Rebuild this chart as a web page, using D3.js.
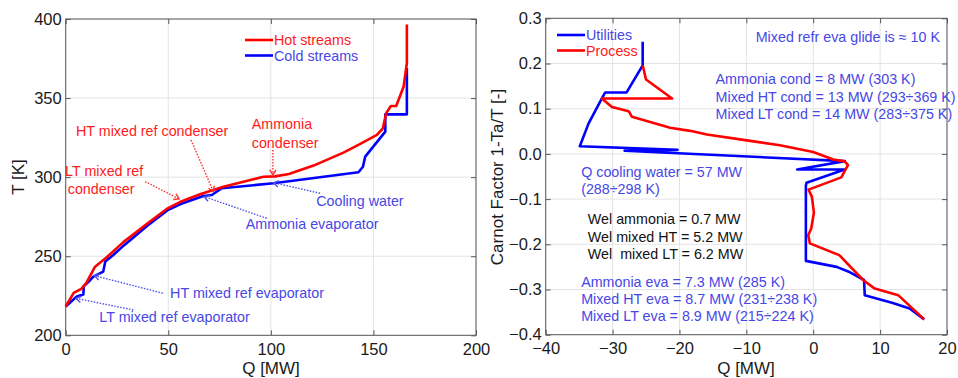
<!DOCTYPE html>
<html>
<head>
<meta charset="utf-8">
<script src="https://cdn.jsdelivr.net/npm/d3@7"></script>
<style>
  body { margin: 0; background: #fff; }
  svg { display: block; font-family: "Liberation Sans", Arial, sans-serif; }
</style>
</head>
<body>
<svg id="chart" width="958" height="378"></svg>
<script>
// ---- left panel: composite curves, [Q MW, T K]
const hotStreams = [
  [0, 218.2], [3.9, 226.8], [7.6, 229.4], [10, 233], [14.3, 243.4], [19.7, 249],
  [28.1, 258.9], [39.5, 270.4], [49.7, 280.3], [56.6, 284.8], [65.5, 289.2],
  [76.9, 294], [91.5, 298.7], [96.4, 300.3], [102, 300.5], [108.8, 302],
  [120.8, 307.3], [135.4, 315.5], [143.6, 321], [151.7, 326.7], [154.6, 330.9],
  [156.2, 340.4], [158.5, 345], [161.1, 345], [164.7, 357.2], [166.3, 372], [166.3, 396.5]
];
const coldStreams = [
  [0, 218.2], [5.4, 224.5], [8.6, 225.8], [8.8, 231], [12, 235], [13.5, 237.1],
  [18.3, 240.3], [19.3, 246.6], [23.2, 250.8], [28.5, 257], [39.5, 269], [49.5, 279],
  [56, 283], [67.1, 288.1], [71.2, 288.7], [76.1, 293], [101.3, 296.1], [142.7, 303.1],
  [144.9, 306.6], [146, 313], [155.8, 328.8], [155.8, 339.7], [166.3, 339.7], [166.3, 369]
];
const leftXTicks = [0, 50, 100, 150, 200];
const leftYTicks = [200, 250, 300, 350, 400];

// labels: [text, Q, T, colour]
const leftLabels = [
  ["HT mixed ref condenser", 5, 329.4, "red"],
  ["Ammonia", 90.7, 333.4, "red"],
  ["condenser", 90.7, 321.8, "red"],
  ["LT mixed ref", -0.3, 304.1, "red"],
  ["condenser", 1, 292.7, "red"],
  ["Cooling water", 122.1, 285.1, "blue"],
  ["Ammonia evaporator", 87.8, 270.4, "blue"],
  ["HT mixed ref evaporator", 50.9, 226.6, "blue"],
  ["LT mixed ref evaporator", 16.4, 211.4, "blue"]
];
// arrows: [Q1, T1, Q2, T2, colour] (head at the second point)
const leftArrows = [
  [61.1, 323.5, 72, 290.8, "red"],
  [101, 317.2, 101, 301.4, "red"],
  [38.7, 297.2, 55.3, 286.2, "red"],
  [124, 289.8, 101.3, 296.5, "blue"],
  [98, 274, 67.5, 287.7, "blue"],
  [47.3, 226.6, 14, 237.7, "blue"],
  [33, 216, 5, 223.4, "blue"]
];

// ---- right panel: Carnot factor vs Q, [Q MW, 1-Ta/T]
const utilities = [
  [-25.5, 0.248], [-25.5, 0.196], [-27.9, 0.136], [-31.1, 0.136], [-31.6, 0.1226],
  [-33.6, 0.067], [-34.9, 0.017], [-20.3, 0.009], [-28.2, 0.007], [4.73, -0.016],
  [-2.4, -0.0346], [4.7, -0.0346], [-1.0, -0.064], [-1.1, -0.07], [-1.1, -0.2367],
  [3.5, -0.25], [5.5, -0.262], [7.6, -0.279], [7.7, -0.3125], [11.9, -0.33],
  [14.4, -0.342], [16.6, -0.366]
];
const process = [
  [-25.5, 0.196], [-25, 0.1646], [-21.1, 0.1226], [-31.6, 0.1226], [-30.1, 0.104],
  [-27.6, 0.0945], [-27.1, 0.082], [-21.4, 0.058], [-18.4, 0.051], [-15.9, 0.043],
  [-9.94, 0.030], [-5, 0.019], [0, 0.0044], [3, -0.0124], [4.7, -0.0165], [5.2, -0.025],
  [4.9, -0.0325], [4.2, -0.052], [-0.7, -0.079], [-0.2, -0.095], [0.1, -0.13],
  [-0.3, -0.165], [-0.75, -0.18], [-0.5, -0.198], [3.9, -0.224], [7.46, -0.279],
  [9.2, -0.298], [12.7, -0.3125], [16.6, -0.366]
];
const rightXTicks = [-40, -30, -20, -10, 0, 10, 20];
const rightYTicks = [-0.4, -0.3, -0.2, -0.1, 0, 0.1, 0.2, 0.3];

// labels: [text, Q, CF, colour]
const rightLabels = [
  ["Mixed refr eva glide is \u2248 10 K", -8.6, 0.259, "blue"],
  ["Ammonia cond = 8 MW (303 K)", -14.6, 0.165, "blue"],
  ["Mixed HT cond = 13 MW (293\u00f7369 K)", -14.6, 0.125, "blue"],
  ["Mixed LT cond = 14 MW (283\u00f7375 K)", -14.6, 0.088, "blue"],
  ["Q cooling water = 57 MW", -34.7, -0.04, "blue"],
  ["(288\u00f7298 K)", -34.7, -0.078, "blue"],
  ["Wel ammonia = 0.7 MW", -33.7, -0.144, "black"],
  ["Wel mixed HT = 5.2 MW", -33.7, -0.184, "black"],
  ["Wel  mixed LT = 6.2 MW", -33.7, -0.222, "black"],
  ["Ammonia eva = 7.3 MW (285 K)", -34.7, -0.283, "blue"],
  ["Mixed HT eva = 8.7 MW (231\u00f7238 K)", -34.7, -0.322, "blue"],
  ["Mixed LT eva = 8.9 MW (215\u00f7224 K)", -34.7, -0.359, "blue"]
];

const colours = { red: "#ff0000", blue: "#0000ff", black: "#111111" };
const textColours = { red: "#ff1a1a", blue: "#4747e6", black: "#111111" };

const svg = d3.select("#chart");

function frame(g, x, y, xTicks, yTicks, xFmt, yFmt) {
  const [x0, x1] = x.range();
  const [y0, y1] = y.range();
  // grid
  g.append("g").selectAll("line").data(xTicks).join("line")
    .attr("x1", d => x(d)).attr("x2", d => x(d))
    .attr("y1", y0).attr("y2", y1)
    .attr("stroke", "#e4e4e4").attr("stroke-width", 1);
  g.append("g").selectAll("line").data(yTicks).join("line")
    .attr("y1", d => y(d)).attr("y2", d => y(d))
    .attr("x1", x0).attr("x2", x1)
    .attr("stroke", "#e4e4e4").attr("stroke-width", 1);

  const bottom = g.append("g").attr("transform", `translate(0,${y0})`)
    .call(d3.axisBottom(x).tickValues(xTicks).tickFormat(xFmt).tickSize(-5).tickPadding(8));
  const top = g.append("g").attr("transform", `translate(0,${y1})`)
    .call(d3.axisTop(x).tickValues(xTicks).tickFormat("").tickSize(-5));
  const left = g.append("g").attr("transform", `translate(${x0},0)`)
    .call(d3.axisLeft(y).tickValues(yTicks).tickFormat(yFmt).tickSize(-5).tickPadding(4));
  const right = g.append("g").attr("transform", `translate(${x1},0)`)
    .call(d3.axisRight(y).tickValues(yTicks).tickFormat("").tickSize(-5));
  [bottom, top, left, right].forEach(a => {
    a.select(".domain").remove();
    a.selectAll(".tick line").attr("stroke", "#555");
    a.selectAll("text").attr("font-size", 16.5).attr("fill", "#1a1a1a")
      .attr("font-family", "Liberation Sans, Arial, sans-serif");
  });
  g.append("rect")
    .attr("x", x0).attr("y", y1).attr("width", x1 - x0).attr("height", y0 - y1)
    .attr("fill", "none").attr("stroke", "#5a5a5a").attr("stroke-width", 1);
}

function curve(g, x, y, data, col) {
  g.append("path").datum(data)
    .attr("d", d3.line().x(d => x(d[0])).y(d => y(d[1])))
    .attr("fill", "none").attr("stroke", col).attr("stroke-width", 2.6)
    .attr("stroke-linejoin", "round");
}

function labels(g, x, y, list) {
  g.append("g").selectAll("text").data(list).join("text")
    .attr("x", d => x(d[1])).attr("y", d => y(d[2]))
    .attr("dy", "0.35em")
    .attr("font-size", 14.3)
    .attr("fill", d => textColours[d[3]])
    .style("white-space", "pre")
    .text(d => d[0]);
}

function arrows(g, x, y, list) {
  list.forEach(a => {
    const px1 = x(a[0]), py1 = y(a[1]), px2 = x(a[2]), py2 = y(a[3]);
    const col = a[4] === "red" ? "#ff3030" : "#5050ee";
    g.append("line")
      .attr("x1", px1).attr("y1", py1).attr("x2", px2).attr("y2", py2)
      .attr("stroke", col).attr("stroke-width", 1.4).attr("stroke-dasharray", "1.5,1.5");
    const ang = Math.atan2(py2 - py1, px2 - px1);
    const L = 6, spread = 0.55;
    const p1 = [px2 - L * Math.cos(ang - spread), py2 - L * Math.sin(ang - spread)];
    const p2 = [px2 - L * Math.cos(ang + spread), py2 - L * Math.sin(ang + spread)];
    g.append("path")
      .attr("d", `M${p1[0]},${p1[1]}L${px2},${py2}L${p2[0]},${p2[1]}`)
      .attr("fill", "none").attr("stroke", col).attr("stroke-width", 1.4);
  });
}

function legend(g, x0, y0, items) {
  items.forEach((it, i) => {
    const yy = y0 + i * 15.5;
    g.append("line").attr("x1", x0).attr("x2", x0 + 28).attr("y1", yy).attr("y2", yy)
      .attr("stroke", colours[it[1]]).attr("stroke-width", 2.6);
    g.append("text").attr("x", x0 + 29).attr("y", yy).attr("dy", "0.35em")
      .attr("font-size", 14.3).attr("fill", textColours[it[1]]).text(it[0]);
  });
}

// ---- left panel
const xL = d3.scaleLinear().domain([0, 200]).range([65.7, 476]);
const yL = d3.scaleLinear().domain([200, 400]).range([335.3, 19]);
const gL = svg.append("g");
frame(gL, xL, yL, leftXTicks, leftYTicks, d3.format("d"), d3.format("d"));
curve(gL, xL, yL, coldStreams, colours.blue);
curve(gL, xL, yL, hotStreams, colours.red);
arrows(gL, xL, yL, leftArrows);
labels(gL, xL, yL, leftLabels);
legend(gL, 245, 40, [["Hot streams", "red"], ["Cold streams", "blue"]]);
gL.append("text").attr("x", 271).attr("y", 368).attr("dy", "0.35em")
  .attr("text-anchor", "middle").attr("font-size", 17).attr("fill", "#1a1a1a").text("Q [MW]");
gL.append("text").attr("transform", "translate(18,177) rotate(-90)").attr("dy", "0.35em")
  .attr("text-anchor", "middle").attr("font-size", 17).attr("fill", "#1a1a1a").text("T [K]");

// ---- right panel
const xR = d3.scaleLinear().domain([-40, 20]).range([545.7, 947]);
const yR = d3.scaleLinear().domain([-0.4, 0.3]).range([334.7, 18.3]);
const gR = svg.append("g");
frame(gR, xR, yR, rightXTicks, rightYTicks, d3.format("d"), d3.format(".1f"));
curve(gR, xR, yR, utilities, colours.blue);
curve(gR, xR, yR, process, colours.red);
labels(gR, xR, yR, rightLabels);
legend(gR, 557, 35, [["Utilities", "blue"], ["Process", "red"]]);
gR.append("text").attr("x", 746).attr("y", 368).attr("dy", "0.35em")
  .attr("text-anchor", "middle").attr("font-size", 17).attr("fill", "#1a1a1a").text("Q [MW]");
gR.append("text").attr("transform", "translate(497,177) rotate(-90)").attr("dy", "0.35em")
  .attr("text-anchor", "middle").attr("font-size", 17).attr("fill", "#1a1a1a")
  .text("Carnot Factor 1-Ta/T [-]");
</script>
</body>
</html>
